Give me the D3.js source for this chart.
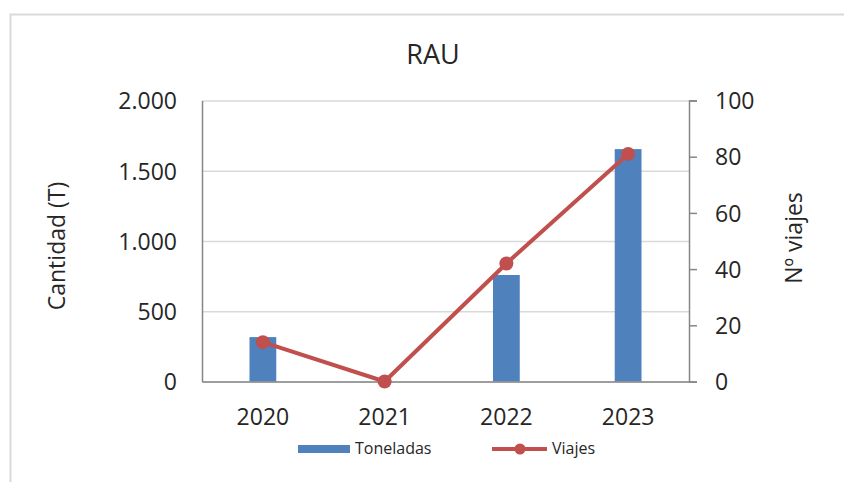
<!DOCTYPE html>
<html>
<head>
<meta charset="utf-8">
<script src="https://cdn.jsdelivr.net/npm/d3@7"></script>
<style>
  body { margin: 0; background: #fff; }
  text { font-family: "Open Sans", "Liberation Sans", sans-serif; fill: #262626; }
</style>
</head>
<body>
<div class="chart"></div>
<script>
var years = ["2020", "2021", "2022", "2023"];
var toneladas = [316, 0, 758, 1654];
var viajes = [14, 0, 42, 81];
var leftTicks = [0, 500, 1000, 1500, 2000];
var rightTicks = [0, 20, 40, 60, 80, 100];

var dataset = years.map(function(y, i) {
    return {year: y, toneladas: toneladas[i], viajes: viajes[i]};
});

var margin = {top: 100.5, right: 155, bottom: 100.5, left: 202},
    width = 844 - margin.left - margin.right,
    height = 482 - margin.top - margin.bottom;

var svg = d3.select(".chart")
  .append("svg")
    .attr("width", 844)
    .attr("height", 482);

// outer frame (runs off the right and bottom edges)
svg.append("rect")
    .attr("x", 10.5)
    .attr("y", 14.5)
    .attr("width", 900)
    .attr("height", 600)
    .attr("fill", "none")
    .attr("stroke", "#d9d9d9")
    .attr("stroke-width", 2);

var g = svg.append("g")
    .attr("transform", "translate(" + margin.left + "," + margin.top + ")");

var x = d3.scaleBand()
    .domain(years)
    .range([0, width])
    .paddingInner(0.78)
    .paddingOuter(0.39);

var y = d3.scaleLinear()
    .domain([0, 2000])
    .range([height, 0]);

var y2 = d3.scaleLinear()
    .domain([0, 100])
    .range([height, 0]);

// gridlines
var gridlines = d3.axisLeft()
    .scale(y)
    .tickValues(leftTicks)
    .tickFormat("")
    .tickSize(-width);

g.append("g")
    .attr("class", "grid")
    .call(gridlines)
    .call(function(s) { s.select(".domain").remove(); })
    .selectAll("line")
      .attr("stroke", "#d9d9d9")
      .attr("stroke-width", 1.5);

// bars
g.append("g")
  .selectAll("rect")
  .data(dataset)
  .enter()
  .append("rect")
    .attr("x", function(d) { return x(d.year); })
    .attr("y", function(d) { return y(d.toneladas); })
    .attr("width", x.bandwidth())
    .attr("height", function(d) { return height - y(d.toneladas); })
    .attr("fill", "#4F81BD");

// axes
var fmt = function(d) { return d3.format(",")(d).replace(/,/g, "."); };

var yaxis = d3.axisLeft()
    .scale(y)
    .tickValues(leftTicks)
    .tickFormat(fmt)
    .tickSize(0)
    .tickPadding(25);

var yaxisRight = d3.axisRight()
    .scale(y2)
    .tickValues(rightTicks)
    .tickSize(8)
    .tickPadding(18);

var xaxis = d3.axisBottom()
    .scale(x)
    .tickSize(0);

g.append("g")
    .attr("class", "y axis")
    .call(yaxis);

g.append("g")
    .attr("class", "y2 axis")
    .attr("transform", "translate(" + width + ",0)")
    .call(yaxisRight);

g.append("g")
    .attr("class", "x axis")
    .attr("transform", "translate(0," + height + ")")
    .call(xaxis)
    .selectAll("text")
      .attr("y", 43)
      .attr("dy", 0);

g.selectAll(".axis .domain, .axis line")
    .attr("stroke", "#868686")
    .attr("stroke-width", 1.5);

g.selectAll(".axis text")
    .attr("font-family", "Open Sans")
    .attr("font-size", "23px")
    .attr("fill", "#262626");

g.selectAll(".y.axis text, .y2.axis text")
    .attr("dy", "0.36em");

// line + markers
var line = d3.line()
    .x(function(d) { return x(d.year) + x.bandwidth() / 2; })
    .y(function(d) { return y2(d.viajes); });

g.append("path")
    .datum(dataset)
    .attr("fill", "none")
    .attr("stroke", "#C0504D")
    .attr("stroke-width", 4)
    .attr("stroke-linejoin", "round")
    .attr("d", line);

g.append("g")
  .selectAll("circle")
  .data(dataset)
  .enter()
  .append("circle")
    .attr("cx", function(d) { return x(d.year) + x.bandwidth() / 2; })
    .attr("cy", function(d) { return y2(d.viajes); })
    .attr("r", 7)
    .attr("fill", "#C0504D");

// titles
svg.append("text")
    .attr("x", 433)
    .attr("y", 64)
    .attr("text-anchor", "middle")
    .attr("font-size", "27px")
    .text("RAU");

svg.append("text")
    .attr("transform", "translate(65,246) rotate(-90)")
    .attr("text-anchor", "middle")
    .attr("font-size", "23px")
    .text("Cantidad (T)");

svg.append("text")
    .attr("transform", "translate(802,238) rotate(-90)")
    .attr("text-anchor", "middle")
    .attr("font-size", "23px")
    .text("Nº viajes");

// legend
var legend = svg.append("g");

legend.append("rect")
    .attr("x", 298)
    .attr("y", 445)
    .attr("width", 52)
    .attr("height", 8)
    .attr("fill", "#4F81BD");

legend.append("text")
    .attr("x", 355)
    .attr("y", 454)
    .attr("font-size", "16px")
    .text("Toneladas");

legend.append("line")
    .attr("x1", 492)
    .attr("x2", 547)
    .attr("y1", 449)
    .attr("y2", 449)
    .attr("stroke", "#C0504D")
    .attr("stroke-width", 4);

legend.append("circle")
    .attr("cx", 520)
    .attr("cy", 449)
    .attr("r", 5.5)
    .attr("fill", "#C0504D");

legend.append("text")
    .attr("x", 552)
    .attr("y", 454)
    .attr("font-size", "16px")
    .text("Viajes");
</script>
</body>
</html>
